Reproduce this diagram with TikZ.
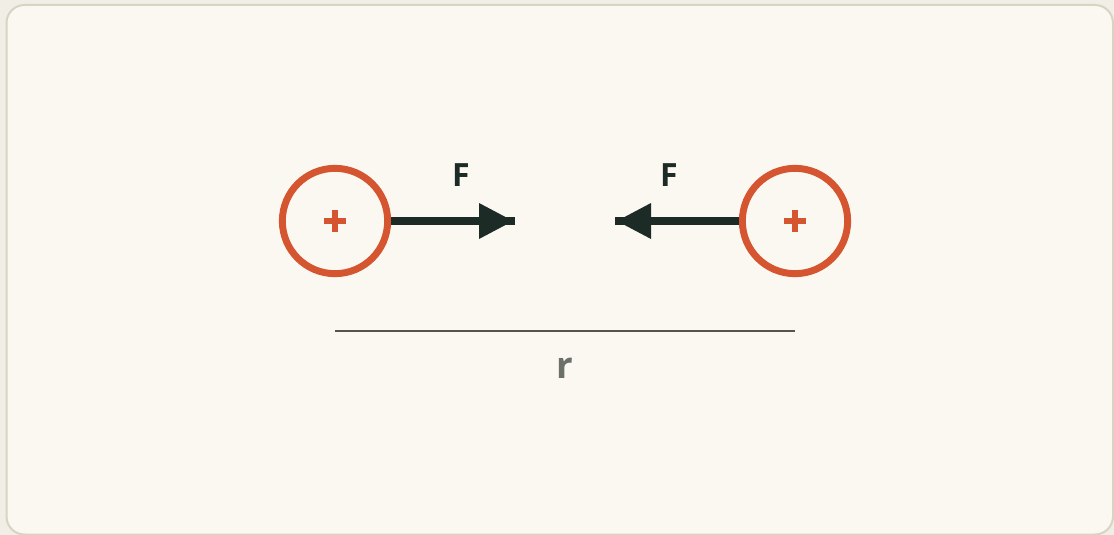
\documentclass[tikz,border=0pt]{standalone}
\usepackage{fontspec}
\setmainfont{Open Sans}
\definecolor{outerbg}{HTML}{F1EEE6}
\definecolor{innerbg}{HTML}{FAF8F1}
\definecolor{framec}{HTML}{D8D4C2}
\definecolor{charge}{HTML}{D4552F}
\definecolor{forcec}{HTML}{1C2B26}
\definecolor{rulec}{HTML}{55554E}
\definecolor{labelgray}{HTML}{6B7068}
\tikzset{
  chargebox/.style={circle, draw=charge, line width=5.2pt, minimum size=79pt, inner sep=0pt},
  plusbar/.style={draw=charge, line width=4.2pt},
  forceline/.style={draw=forcec, line width=6pt},
  forcetip/.style={fill=forcec, draw=none},
  flabel/.style={text=forcec, font=\bfseries\fontsize{24}{24}\selectfont},
  rlabel/.style={text=labelgray, font=\bfseries\fontsize{27.5}{27.5}\selectfont, inner sep=0pt},
}
\begin{document}
\begin{tikzpicture}[x=0.75pt,y=-0.75pt]
\useasboundingbox (0,0) rectangle (1114,535);
\fill[outerbg] (0,0) rectangle (1114,535);
\begin{scope}
\clip (0,0) rectangle (1114,535);
\filldraw[fill=innerbg, draw=framec, line width=1.5pt, rounded corners=13.5pt] (6.5,5) rectangle (1113,534.5);
\end{scope}
% charges
\node[chargebox] (q1) at (335,221) {};
\node[chargebox] (q2) at (795,221) {};
\draw[plusbar] (324,221) -- (346,221) (335,210) -- (335,232);
\draw[plusbar] (784,221) -- (806,221) (795,210) -- (795,232);
% force arrows
\coordinate (e1) at (515,221);
\coordinate (e2) at (615,221);
\draw[forceline] (q1.east) -- (e1);
\fill[forcetip] (479,203) -- (513,221) -- (479,239) -- cycle;
\draw[forceline] (q2.west) -- (e2);
\fill[forcetip] (651,203) -- (617,221) -- (651,239) -- cycle;
\node[flabel] (f1) at (461,175) {F};
\node[flabel] (f2) at (669,175) {F};
% distance
\coordinate (r1) at (335,331);
\coordinate (r2) at (795,331);
\draw[rulec, line width=0.9pt] (r1) -- (r2);
\node[rlabel] (rl) at (565,368) {r};
\end{tikzpicture}
\end{document}
